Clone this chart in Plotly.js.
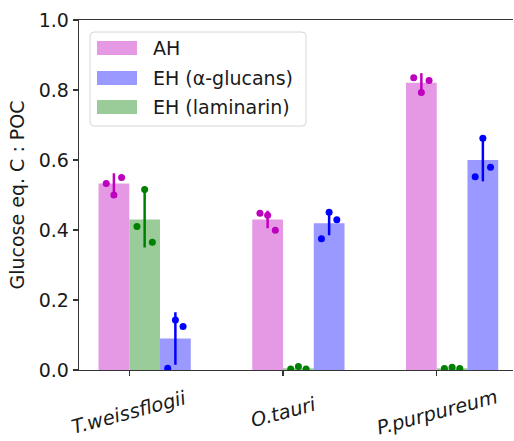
<!DOCTYPE html>
<html><head><meta charset="utf-8">
<script src="https://cdn.plot.ly/plotly-3.0.1.min.js"></script>
<style>html,body{margin:0;padding:0;background:#fff}</style>
</head><body><div id="chart" style="width:514px;height:441px"></div>
<script>
// ---- data ----
const categories = ['T.weissflogii', 'O.tauri', 'P.purpureum'];
const seriesNames = ['AH', 'EH (α-glucans)', 'EH (laminarin)'];
const yTickVals = [0, 0.2, 0.4, 0.6, 0.8, 1.0];

const ahMean = [0.533, 0.430, 0.821];
const ahErr = [0.029, 0.025, 0.027];
const ahPoints = [[0.533, 0.500, 0.550], [0.448, 0.442, 0.399], [0.835, 0.793, 0.827]];

const glucMean = [0.090, 0.419, 0.600];
const glucErr = [0.075, 0.034, 0.061];
const glucPoints = [[0.005, 0.143, 0.124], [0.375, 0.451, 0.429], [0.552, 0.662, 0.579]];

const lamMean = [0.430, 0.005, 0.005];
const lamErr = [0.080, 0.003, 0.002];
const lamPoints = [[0.410, 0.516, 0.365], [0.003, 0.010, 0.003], [0.004, 0.008, 0.004]];

// ---- styling ----
const FONT = 'DejaVu Sans, sans-serif';
const FS = 19;
const FSX = 19.5;
const TXT = '#1a1a1a';
const AX = '#333333';
const barW = 0.2;
const jitter = [-0.05, 0, 0.05];
const series = [
  {name: seriesNames[0], mean: ahMean, err: ahErr, pts: ahPoints, offset: -0.2, fill: '#e599e5', dot: '#bf00bf'},
  {name: seriesNames[1], mean: glucMean, err: glucErr, pts: glucPoints, offset: 0.2, fill: '#9999ff', dot: '#0000ff'},
  {name: seriesNames[2], mean: lamMean, err: lamErr, pts: lamPoints, offset: 0.0, fill: '#99cc99', dot: '#008000'}
];
const idx = categories.map((c, i) => i);

const traces = [];
series.forEach(s => {
  traces.push({type: 'bar', x: idx, y: s.mean, width: barW, offset: s.offset,
    marker: {color: s.fill, line: {width: 0}}, name: s.name, showlegend: false, hoverinfo: 'skip'});
});
series.forEach(s => {
  const c = s.offset + barW / 2;
  traces.push({type: 'scatter', mode: 'markers', x: idx.map(i => i + c), y: s.mean,
    marker: {size: 1, opacity: 0}, showlegend: false, hoverinfo: 'skip',
    error_y: {type: 'data', array: s.err, visible: true, color: s.dot, thickness: 2.5, width: 0}});
});
series.forEach(s => {
  const c = s.offset + barW / 2;
  const xs = [], ys = [];
  s.pts.forEach((arr, i) => arr.forEach((v, j) => { xs.push(i + c + jitter[j]); ys.push(v); }));
  traces.push({type: 'scatter', mode: 'markers', x: xs, y: ys,
    marker: {size: 7, color: s.dot, line: {width: 0}}, showlegend: false, hoverinfo: 'skip'});
});

// ---- manual legend (matplotlib style) ----
const L = 79, PW = 434, T = 20, PH = 350;
const px = v => (v - L) / PW;
const py = v => (370 - v) / PH;
const shapes = [];
const annotations = [];
(function () {
  const x0 = px(90), x1 = px(306), y0 = py(126), y1 = py(32);
  const rx = 4 / PW, ry = 4 / PH;
  const path = `M${x0 + rx},${y0} L${x1 - rx},${y0} Q${x1},${y0} ${x1},${y0 + ry} L${x1},${y1 - ry} Q${x1},${y1} ${x1 - rx},${y1} L${x0 + rx},${y1} Q${x0},${y1} ${x0},${y1 - ry} L${x0},${y0 + ry} Q${x0},${y0} ${x0 + rx},${y0} Z`;
  shapes.push({type: 'path', xref: 'paper', yref: 'paper', path: path,
    fillcolor: 'rgba(255,255,255,0.8)', line: {color: '#d6d6d6', width: 1}});
})();
const legendOrder = [0, 1, 2];
const rowY = [48, 78, 107];
legendOrder.forEach((k, r) => {
  const s = series[k];
  shapes.push({type: 'rect', xref: 'paper', yref: 'paper', x0: px(97), x1: px(137),
    y0: py(rowY[r] + 7), y1: py(rowY[r] - 7), fillcolor: s.fill, line: {width: 0}});
  annotations.push({xref: 'paper', yref: 'paper', x: px(151), y: py(rowY[r]), text: s.name,
    showarrow: false, xanchor: 'left', yanchor: 'middle', font: {family: FONT, size: FS, color: TXT}});
});
// x tick labels (rotated, centred under ticks)
categories.forEach((c, i) => {
  annotations.push({xref: 'x', yref: 'paper', x: i, y: py(412), text: '<i>' + c + '</i>',
    textangle: -15, showarrow: false, xanchor: 'center', yanchor: 'middle',
    font: {family: FONT, size: FSX, color: TXT}});
});

const layout = {
  width: 514, height: 441,
  margin: {l: L, r: 514 - L - PW, t: T, b: 441 - T - PH, pad: 0},
  paper_bgcolor: '#ffffff', plot_bgcolor: '#ffffff',
  barmode: 'overlay',
  font: {family: FONT, size: FS, color: TXT},
  xaxis: {range: [-0.327, 2.496], tickvals: idx, showticklabels: false,
    ticks: 'outside', ticklen: 5, tickwidth: 1.3, tickcolor: AX,
    showline: true, linecolor: AX, linewidth: 1.3, mirror: true,
    showgrid: false, zeroline: false, fixedrange: true},
  yaxis: {range: [0, 1], tickvals: yTickVals, tickformat: '.1f',
    ticks: 'outside', ticklen: 5, tickwidth: 1.3, tickcolor: AX,
    showline: true, linecolor: AX, linewidth: 1.3,
    showgrid: false, zeroline: false, tickfont: {family: FONT, size: FS, color: TXT},
    title: {text: 'Glucose eq. C : POC', font: {family: FONT, size: FS, color: TXT}, standoff: 9}},
  shapes: shapes,
  annotations: annotations,
  showlegend: false
};

Plotly.newPlot('chart', traces, layout, {staticPlot: true, displayModeBar: false});
</script>
</body></html>
